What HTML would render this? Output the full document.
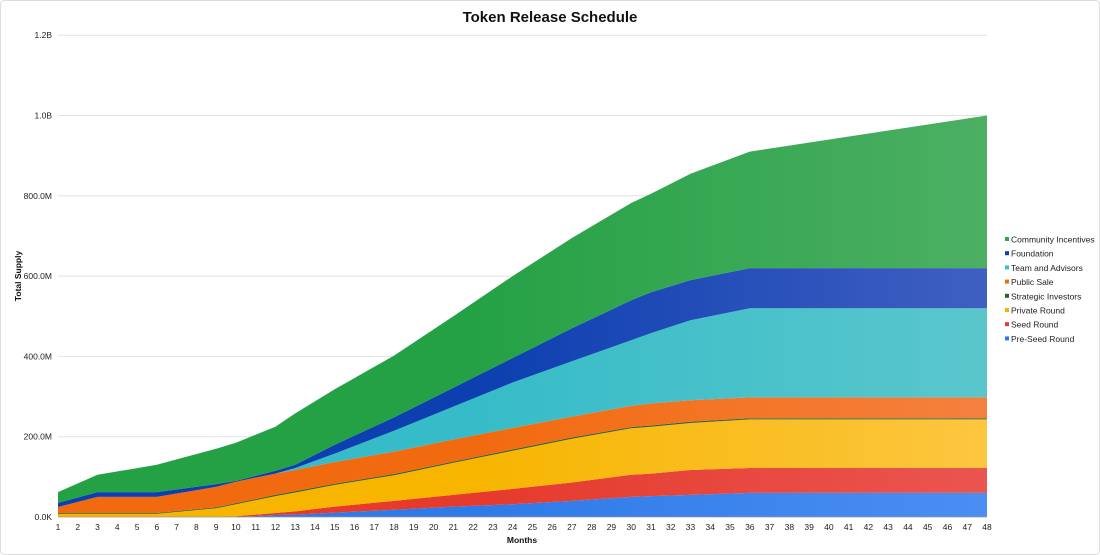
<!DOCTYPE html>
<html><head><meta charset="utf-8"><style>
html,body{margin:0;padding:0;background:#fff;}
svg{display:block;font-family:"Liberation Sans",Arial,sans-serif;}
</style></head><body>
<svg id="s" width="1100" height="555" viewBox="0 0 1100 555" xmlns="http://www.w3.org/2000/svg">
<rect x="0.5" y="0.5" width="1099" height="554" rx="4" fill="#fff" stroke="#ddd"/>
<text x="550" y="22" text-anchor="middle" font-size="15" font-weight="bold" fill="#111">Token Release Schedule</text>
<text transform="translate(21,276) rotate(-90)" text-anchor="middle" font-size="8.5" font-weight="bold" fill="#111">Total Supply</text>
<text x="522" y="543" text-anchor="middle" font-size="8.5" font-weight="bold" fill="#111">Months</text>
<g id="grid"></g>
<g id="areas"></g>
<g id="xt" font-size="8.5" fill="#222" text-anchor="middle"></g>
<g id="leg" font-size="8.5" fill="#222"></g>
</svg>
<script>
var NS="http://www.w3.org/2000/svg";
function el(t,a,p,txt){var e=document.createElementNS(NS,t);for(var k in a)e.setAttribute(k,a[k]);if(txt!==undefined)e.textContent=txt;p.appendChild(e);return e;}
var x0=58,x1=987,y0=517,pxM=80.3/200;
function X(m){return x0+(m-1)*(x1-x0)/47;}
function Y(v){return y0-v*pxM;}
var g=document.getElementById('grid');
var yl=["0.0K","200.0M","400.0M","600.0M","800.0M","1.0B","1.2B"];
for(var i=0;i<7;i++){var y=Y(i*200);
 if(i>0)el('line',{x1:x0,x2:x1,y1:y,y2:y,stroke:'#e2e2e2','stroke-width':1},g);
 el('text',{x:52,y:y+3,'text-anchor':'end','font-size':8.5,fill:'#222'},g,yl[i]);}
var xt=document.getElementById('xt');
for(var m=1;m<=48;m++)el('text',{x:X(m),y:530},xt,String(m));
var K=[1,3,6,9,10,12,13,15,18,21,24,27,30,31,33,36,48];
var B={
pre:[0,0,0,0,0,5,6,11,18,26,32,40,50,52,55,60,60],
seed:[0,0,0,0,2,10,14,26,40,55,70,86,105,108,117,122,122],
priv:[8,8,8,22,32,52,61,80,104,135,165,195,221,225,234,243,243],
strat:[10,10,10,24,34,55,64,83,107,138,168,198,224,228,237,246,246],
pub:[25,50,50,75,88,108,117,137,163,193,222,250,277,283,291,298,298],
team:[25,50,50,75,88,108,122,158,215,275,335,388,440,458,490,520,520],
fnd:[35,62,62,82,90,115,130,180,248,322,396,470,540,560,590,620,620],
com:[62,105,130,170,185,225,258,318,402,500,600,695,782,805,855,910,1000]};
var zero=K.map(function(){return 0;});
var S=[["pre",zero,"#2f7ae8","#4a8ef2"],["seed","pre","#e53a2c","#ea5550"],["priv","seed","#f7b500","#fcc640"],["strat","priv","#2e5e2e","#3a6a3a"],["pub","strat","#f26a0f","#f5803e"],["team","pub","#36bcc8","#5ac6cc"],["fnd","team","#0c3fb0","#3f5fc2"],["com","fnd","#25a145","#4caf63"]];
var ar=document.getElementById('areas');var defs=el('defs',{},ar);
S.forEach(function(s,i){
 var top=B[s[0]],bot=typeof s[1]==='string'?B[s[1]]:s[1];
 var gr=el('linearGradient',{id:'g'+i,x1:0,x2:1,y1:0,y2:0},defs);
 el('stop',{offset:0,'stop-color':s[2]},gr);el('stop',{offset:0.45,'stop-color':s[2]},gr);el('stop',{offset:1,'stop-color':s[3]},gr);
 var d="";for(var j=0;j<K.length;j++)d+=(j?"L":"M")+X(K[j]).toFixed(1)+","+Y(top[j]).toFixed(1);
 for(var j=K.length-1;j>=0;j--)d+="L"+X(K[j]).toFixed(1)+","+Y(bot[j]).toFixed(1);
 el('path',{d:d+"Z",fill:'url(#g'+i+')'},ar);
});
el('line',{x1:x0,x2:x1,y1:y0,y2:y0,stroke:'#999','stroke-width':0.8},ar);
var L=[["Community Incentives","#2aa84a"],["Foundation","#0c3fb0"],["Team and Advisors","#3cc0c8"],["Public Sale","#f26a0f"],["Strategic Investors","#2e5e2e"],["Private Round","#f7b500"],["Seed Round","#e53a2c"],["Pre-Seed Round","#2f7ae8"]];
var lg=document.getElementById('leg');
L.forEach(function(l,i){var y=240+i*14.2;
 el('rect',{x:1005,y:y-3,width:4,height:4,fill:l[1]},lg);
 el('text',{x:1011,y:y+2.5},lg,l[0]);});
</script>
</body></html>
